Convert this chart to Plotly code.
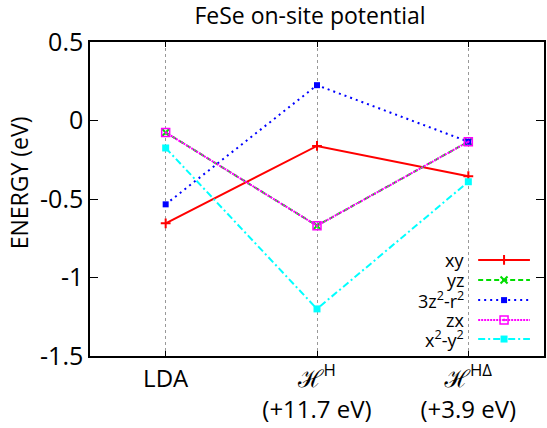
import plotly.graph_objects as go

categories = ["LDA", "HH", "HHD"]
tick_text = ["LDA", "<i>ℋ</i><sup>H</sup><br>(+11.7 eV)", "<i>ℋ</i><sup>HΔ</sup><br>(+3.9 eV)"]
series_names = ["xy", "yz", "3z<sup>2</sup>-r<sup>2</sup>", "zx", "x<sup>2</sup>-y<sup>2</sup>"]
xy = [-0.655, -0.162, -0.355]
yz = [-0.076, -0.670, -0.135]
z2 = [-0.534, 0.225, -0.135]
zx = [-0.076, -0.670, -0.135]
x2y2 = [-0.175, -1.200, -0.390]
y_ticks = [0.5, 0, -0.5, -1, -1.5]
y_tick_text = ["0.5", "0", "-0.5", "-1", "-1.5"]

styles = [
    dict(color="#ff0000", dash="solid", symbol="cross-thin", msize=7, mline=2),
    dict(color="#00dd00", dash="5px,3px", symbol="x-thin", msize=7, mline=2),
    dict(color="#0000ff", dash="2px,4px", symbol="square", msize=6, mline=0),
    dict(color="#ff00ff", dash="2px,1px", symbol="square-open-dot", msize=8, mline=1.5),
    dict(color="#00ffff", dash="7px,3px,2px,3px", symbol="square", msize=7, mline=0),
]
values = [xy, yz, z2, zx, x2y2]

FONT = "Open Sans, Noto Sans, DejaVu Sans"

fig = go.Figure()
xpos = [0, 1, 2]
for name, vals, st in zip(series_names, values, styles):
    fig.add_trace(go.Scatter(
        x=xpos, y=vals, mode="lines+markers", name=name, showlegend=False,
        line=dict(color=st["color"], width=2, dash=st["dash"]),
        marker=dict(symbol=st["symbol"], size=st["msize"], color=st["color"],
                    line=dict(color=st["color"], width=st["mline"])),
    ))

# manual gnuplot-style legend (text left of sample)
leg_y = [0.306, 0.242, 0.178, 0.115, 0.054]
for name, ly, st in zip(series_names, leg_y, styles):
    fig.add_trace(go.Scatter(
        x=[0.855, 0.969], y=[ly, ly], mode="lines", xaxis="x2", yaxis="y2",
        showlegend=False, hoverinfo="skip",
        line=dict(color=st["color"], width=2, dash=st["dash"]),
    ))
    fig.add_trace(go.Scatter(
        x=[0.912], y=[ly], mode="markers", xaxis="x2", yaxis="y2",
        showlegend=False, hoverinfo="skip",
        marker=dict(symbol=st["symbol"], size=st["msize"], color=st["color"],
                    line=dict(color=st["color"], width=st["mline"])),
    ))
    fig.add_annotation(x=0.829, y=ly, xref="x2", yref="y2", text=name,
                       showarrow=False, xanchor="right", yanchor="middle",
                       font=dict(size=18, color="black", family=FONT))

fig.add_annotation(x=(19 - 90) / 456, y=(356 - 183) / 314, xref="paper", yref="paper",
                   text="ENERGY (eV)", showarrow=False, textangle=-90,
                   xanchor="center", yanchor="middle",
                   font=dict(size=23, color="black", family=FONT))

fig.update_layout(
    width=547, height=428,
    margin=dict(l=90, r=1, t=42, b=72),
    paper_bgcolor="white", plot_bgcolor="white",
    font=dict(family=FONT, color="black"),
    title=dict(text="FeSe on-site potential", x=310 / 547, xanchor="center",
               y=1 - 16 / 428, yanchor="middle", font=dict(size=23)),
    xaxis=dict(range=[-0.5, 2.5], tickvals=xpos, ticktext=tick_text,
               showgrid=True, gridcolor="#999999", griddash="dot", gridwidth=1,
               showline=True, linecolor="black", linewidth=1.5, mirror="allticks",
               ticks="inside", ticklen=5, tickcolor="black",
               tickfont=dict(size=24), zeroline=False, fixedrange=True),
    yaxis=dict(range=[-1.5, 0.5], tickvals=y_ticks, ticktext=y_tick_text,
               showgrid=False, showline=True, linecolor="black", linewidth=1.5,
               mirror="allticks", ticks="inside", ticklen=8, tickcolor="black",
               tickfont=dict(size=25), zeroline=False, fixedrange=True),
    xaxis2=dict(range=[0, 1], overlaying="x", visible=False, fixedrange=True),
    yaxis2=dict(range=[0, 1], overlaying="y", visible=False, fixedrange=True),
)

fig.write_html("out.html")
